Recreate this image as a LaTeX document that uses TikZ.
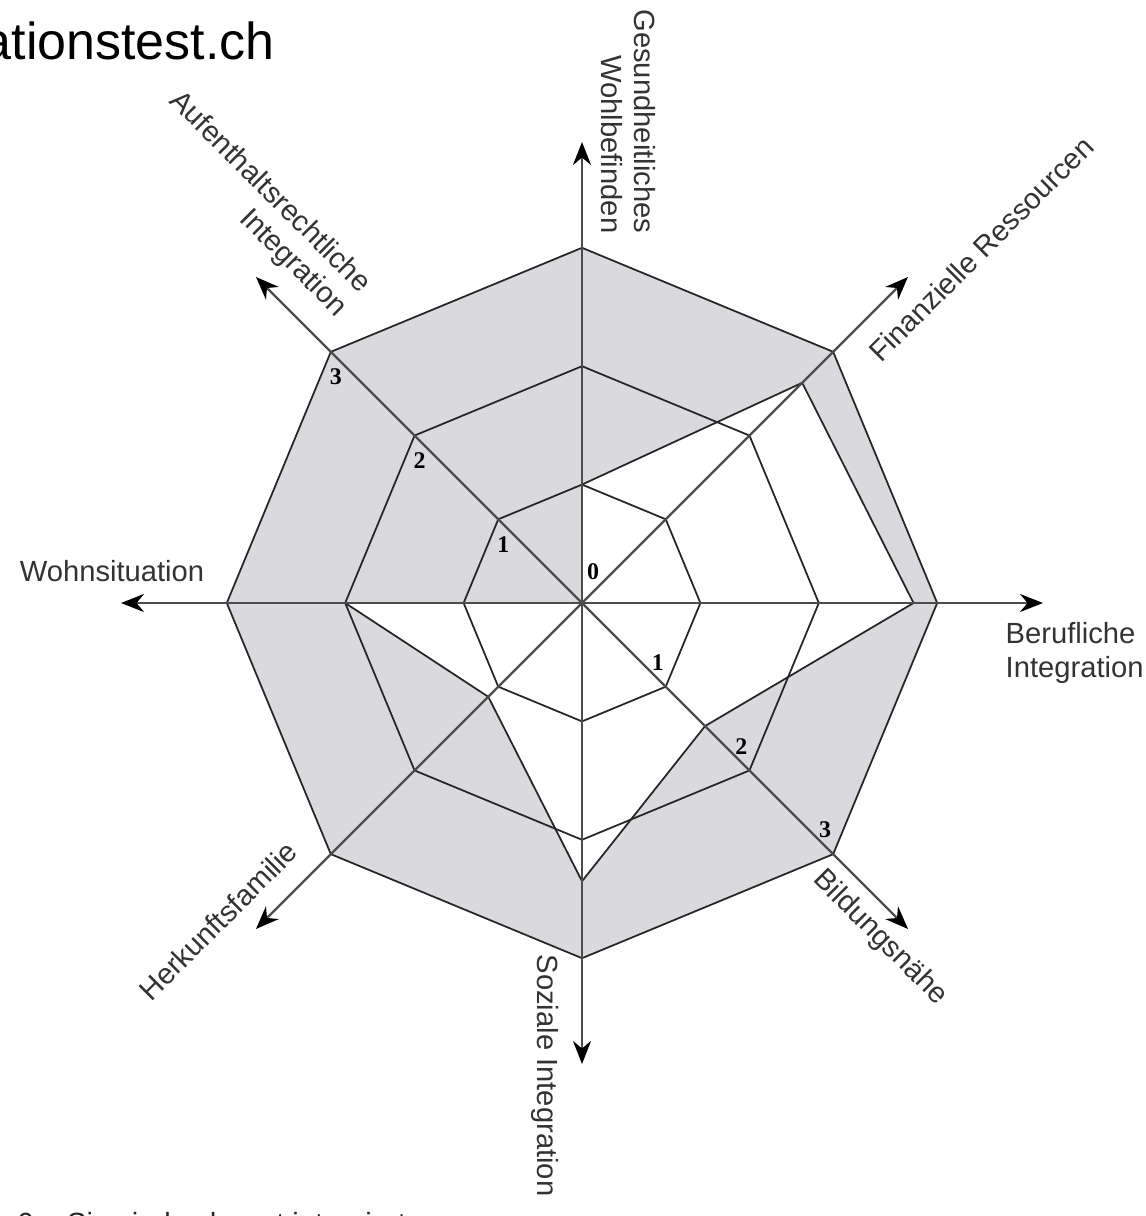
\documentclass[tikz,border=0pt]{standalone}
\usepackage{fontspec}
\setmainfont{Liberation Sans}
\newfontfamily\zahlfont{Liberation Serif}
\usetikzlibrary{arrows.meta}
\definecolor{netzgrau}{RGB}{218,218,222}
\newcommand{\einheit}{1.184}
\tikzset{
  achse/.style={draw=black!70, line width=0.65pt, -{Stealth[length=2.3mm, width=1.8mm, black]}},
  netz/.style={draw=black!85, line width=0.5pt},
  beschr/.style={text=black!80, inner sep=0pt, font=\fontsize{8.3}{9.6}\selectfont},
  zahl/.style={inner sep=0pt, font=\zahlfont\bfseries\fontsize{6.8}{8}\selectfont},
}
\begin{document}
\begin{tikzpicture}
        \useasboundingbox (-5.82,-6.13) rectangle (5.63,6.03);
        % Mittelpunkt und Pfeilspitzen
        \coordinate (O) at (0,0);
        \coordinate (tBeruf) at (0:4.61);
        \coordinate (tFinanz) at (45:4.61);
        \coordinate (tGesund) at (90:4.61);
        \coordinate (tAufent) at (135:4.61);
        \coordinate (tWohn) at (180:4.61);
        \coordinate (tHerkunft) at (225:4.61);
        \coordinate (tSozial) at (270:4.61);
        \coordinate (tBildung) at (315:4.61);

        % Profilwerte
        \coordinate (d1) at (0:{2.8*\einheit});
        \coordinate (d2) at (45:{2.63*\einheit});
        \coordinate (d3) at (90:{1*\einheit});
        \coordinate (d4) at (135:0);
        \coordinate (d5) at (180:{2*\einheit});
        \coordinate (d6) at (225:{1.12*\einheit});
        \coordinate (d7) at (270:{2.35*\einheit});
        \coordinate (d8) at (315:{1.47*\einheit});

        % Flaeche zwischen Rand und Profil
        \fill[netzgrau, even odd rule] (0:{3*\einheit}) \foreach \a in {45,90,...,315} {-- (\a:{3*\einheit})} -- cycle
            (d1) -- (d2) -- (d3) -- (d4) -- (d5) -- (d6) -- (d7) -- (d8) -- cycle;

        % Netz
        \foreach \k in {1,2,3}
            \draw[netz] (0:{\k*\einheit}) \foreach \a in {45,90,...,315} {-- (\a:{\k*\einheit})} -- cycle;
        \draw[netz] (d1) -- (d2) -- (d3) -- (d4) -- (d5) -- (d6) -- (d7) -- (d8) -- cycle;

        % Achsen
        \foreach \t in {tBeruf,tFinanz,tGesund,tAufent,tWohn,tHerkunft,tSozial,tBildung}
            \draw[achse] (O) -- (\t);

        % Skala
        \node[zahl] (z0) at (0.11,0.31) {0};
        \foreach \k in {1,2,3} {
            \node[zahl, xshift=0.5mm, yshift=-2.5mm] (nw\k) at (135:{\k*\einheit}) {\k};
            \node[zahl, xshift=-0.8mm, yshift=2.4mm] (se\k) at (315:{\k*\einheit}) {\k};
        }

        % Beschriftungen
        \node[beschr, anchor=base] (wohn) at (-4.70,0.21) {Wohnsituation};
        \node[beschr, anchor=north west, align=left] (beruf) at (4.23,-0.19) {Berufliche\\Integration};
        \node[beschr, rotate=-90, anchor=east, align=right] (gesund) at (0.465,3.69) {Gesundheitliches\\Wohlbefinden};
        \node[beschr, rotate=45] (finanz) at (3.99,3.54) {Finanzielle Ressourcen};
        \node[beschr, rotate=-45, align=right] (aufent) at (-3.245,3.985) {Aufenthaltsrechtliche\\Integration};
        \node[beschr, rotate=45] (herkunft) at (-3.64,-3.18) {Herkunftsfamilie};
        \node[beschr, rotate=-45] (bildung) at (2.98,-3.35) {Bildungsnähe};
        \node[beschr, rotate=-90, anchor=west] (sozial) at (-0.365,-3.51) {Soziale Integration};

        \node[anchor=base west, inner sep=0pt, font=\fontsize{14.8}{16}\selectfont] (titel) at (-6.00,5.43) {ationstest.ch};
        \node[beschr, text=black!85, anchor=north west] (legende) at (-5.65,-6.09) {0 = Sie sind sehr gut integriert};
\end{tikzpicture}
\end{document}
